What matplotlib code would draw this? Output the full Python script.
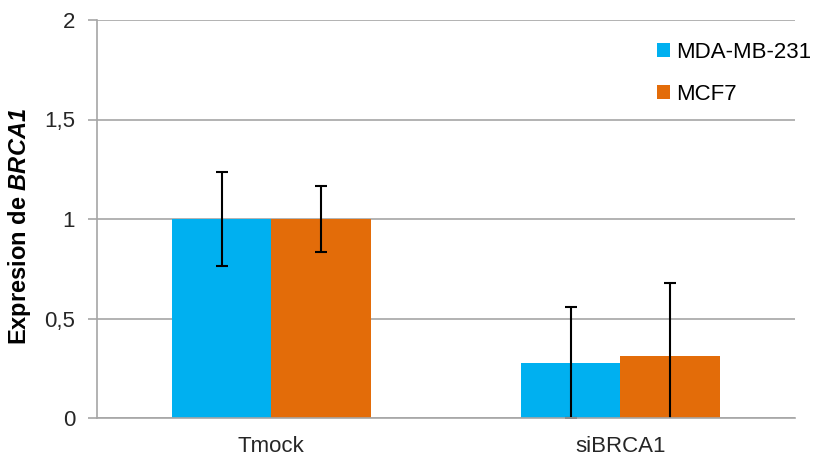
import numpy as np
import matplotlib.pyplot as plt

plt.rcParams['font.family'] = ['Liberation Sans', 'DejaVu Sans']
plt.rcParams['mathtext.fontset'] = 'custom'
plt.rcParams['mathtext.bfit'] = 'Liberation Sans:bold:italic'
plt.rcParams['mathtext.bf'] = 'Liberation Sans:bold'

# data
categories = ['Tmock', 'siBRCA1']
series = ['MDA-MB-231', 'MCF7']
mda_vals = [1.0, 0.278]
mda_err = [0.236, 0.28]
mcf_vals = [1.0, 0.313]
mcf_err = [0.166, 0.364]
yticks = [0, 0.5, 1, 1.5, 2]
ytick_labels = ['0', '0,5', '1', '1,5', '2']

blue = '#00B0F0'
orange = '#E36C09'
grid_c = '#A6A6A6'

fig = plt.figure(figsize=(8.18, 4.63), dpi=100)
ax = fig.add_axes([96.7 / 818, 1 - 418 / 463, (795 - 96.7) / 818, (418 - 20) / 463])

x = np.arange(len(categories))
w = 0.285
ekw = dict(ecolor='black', elinewidth=1.5, capsize=4.3, capthick=1.5)
ax.bar(x - w / 2, mda_vals, w, color=blue, label=series[0],
       yerr=mda_err, error_kw=ekw, zorder=2)
ax.bar(x + w / 2, mcf_vals, w, color=orange, label=series[1],
       yerr=mcf_err, error_kw=ekw, zorder=2)

ax.set_xlim(-0.5, 1.5)
ax.set_ylim(0, 2)
ax.set_yticks(yticks)
ax.set_yticklabels(ytick_labels, fontsize=16, color='#262626')
ax.set_xticks(x)
ax.set_xticklabels(categories, fontsize=16, color='#262626')
ax.tick_params(axis='x', length=0, pad=13)
ax.tick_params(axis='y', length=6.5, width=1.2, color=grid_c, pad=9)

ax.grid(axis='y', color=grid_c, linewidth=1.2, zorder=0)
for side in ['top', 'right']:
    ax.spines[side].set_visible(False)
ax.spines['left'].set_color(grid_c)
ax.spines['left'].set_linewidth(1.2)
ax.spines['bottom'].set_color(grid_c)
ax.spines['bottom'].set_linewidth(1.2)

ax.set_ylabel(r'Expresion de $\mathbfit{BRCA1}$', fontsize=17,
              fontweight='bold')
ax.yaxis.set_label_coords((33 - 96.7) / 698.3, (418 - 226) / 398)

leg = ax.legend(loc='upper left', bbox_to_anchor=(0.802, 0.945), frameon=False,
                fontsize=16, handlelength=0.6, handleheight=0.6,
                handletextpad=0.25, labelspacing=0.95, borderpad=0,
                borderaxespad=0)

fig.savefig('out.png', dpi=100)
